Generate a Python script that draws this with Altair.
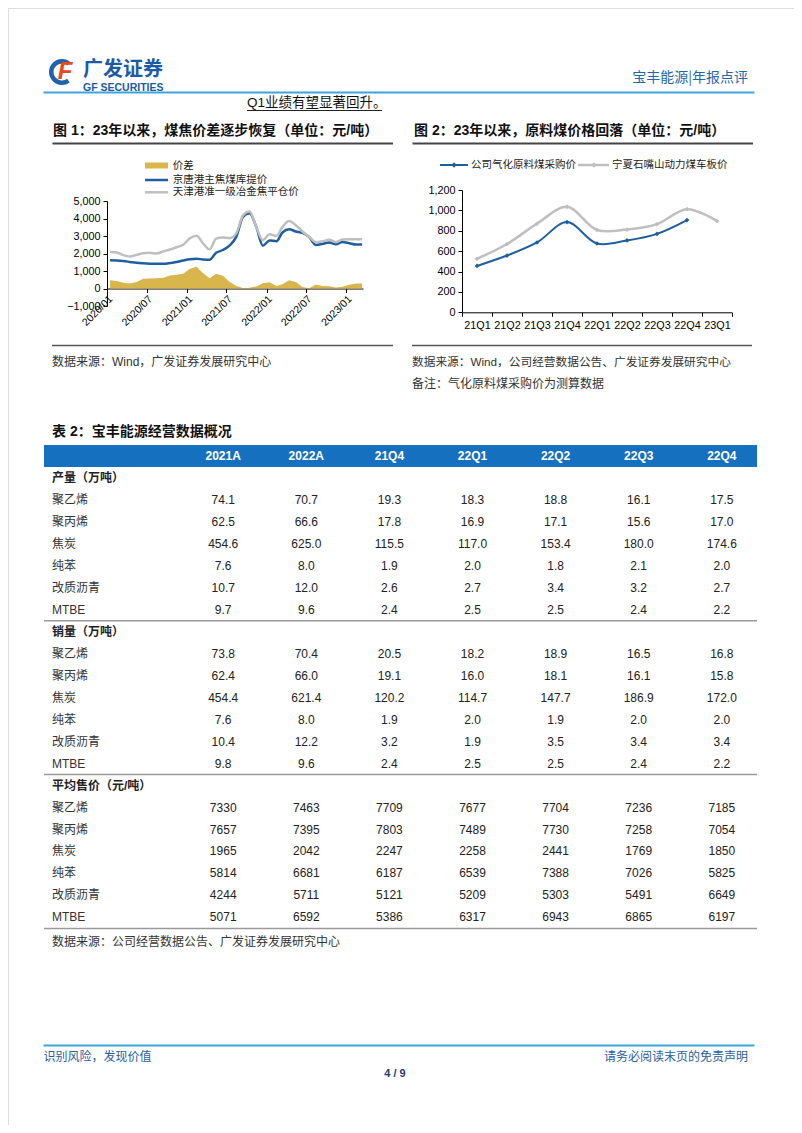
import altair as alt
import pandas as pd

CJK = "Noto Sans CJK SC"
MIX = "Liberation Sans, Noto Sans CJK SC"
LAT = "Liberation Sans"

BLUE = "#1f5fa0"
GRAY = "#bfbfbf"
GOLD = "#d8b64c"
HDR_BLUE = "#1570c0"
LINE_BLUE = "#3aa6dc"
NAVY = "#2a5d9f"

# ---------------- Figure 1 data (monthly, mid-month) ----------------
dates1 = [
    "2020-01-15", "2020-02-15", "2020-03-15", "2020-04-15", "2020-05-15", "2020-06-15",
    "2020-07-15", "2020-08-15", "2020-09-15", "2020-10-15", "2020-11-15", "2020-12-15",
    "2021-01-15", "2021-02-15", "2021-03-15", "2021-04-15", "2021-05-15", "2021-06-15",
    "2021-07-15", "2021-08-15", "2021-09-15", "2021-10-15", "2021-11-15", "2021-12-15",
    "2022-01-15", "2022-02-15", "2022-03-15", "2022-04-15", "2022-05-15", "2022-06-15",
    "2022-07-15", "2022-08-15", "2022-09-15", "2022-10-15", "2022-11-15", "2022-12-15",
    "2023-01-15", "2023-02-15", "2023-03-15",
]
spread = [475, 430, 330, 290, 370, 560, 575, 580, 620, 750, 790, 840, 1130, 1250, 880,
          580, 850, 730, 380, 150, 30, 50, 120, 300, 360, 150, 250, 470, 370, 90, 20,
          230, 150, 130, 60, 100, 220, 285, 285]
jingtang = [1610, 1600, 1570, 1520, 1470, 1440, 1420, 1410, 1410, 1450, 1520, 1600, 1670,
            1700, 1660, 1640, 2040, 2200, 2450, 2950, 4090, 4300, 3520, 2450, 2750, 2700,
            3200, 3380, 3260, 3180, 2950, 2480, 2550, 2630, 2530, 2660, 2590, 2510, 2510]
tianjin = [2090, 2060, 1910, 1830, 1920, 2020, 2040, 2000, 2120, 2230, 2360, 2500, 2870,
           3020, 2600, 2240, 2850, 2920, 2870, 3150, 4180, 4400, 3520, 2760, 3100, 3000,
           3520, 3860, 3620, 3260, 2950, 2650, 2700, 2780, 2650, 2800, 2810, 2810, 2810]
tick_months = [(2020, 1), (2020, 7), (2021, 1), (2021, 7), (2022, 1), (2022, 7), (2023, 1)]

# ---------------- Figure 2 data ----------------
quarters = ["21Q1", "21Q2", "21Q3", "21Q4", "22Q1", "22Q2", "22Q3", "22Q4", "23Q1"]
company_coal = [455, 557, 685, 885, 675, 705, 770, 905]
ningxia_coal = [525, 670, 870, 1035, 808, 812, 865, 1012, 895]

# ---------------- Table data ----------------
tbl_cols = ["2021A", "2022A", "21Q4", "22Q1", "22Q2", "22Q3", "22Q4"]
products = ["聚乙烯", "聚丙烯", "焦炭", "纯苯", "改质沥青", "MTBE"]
sections = ["产量（万吨）", "销量（万吨）", "平均售价（元/吨）"]
output_vals = [
    [74.1, 70.7, 19.3, 18.3, 18.8, 16.1, 17.5],
    [62.5, 66.6, 17.8, 16.9, 17.1, 15.6, 17.0],
    [454.6, 625.0, 115.5, 117.0, 153.4, 180.0, 174.6],
    [7.6, 8.0, 1.9, 2.0, 1.8, 2.1, 2.0],
    [10.7, 12.0, 2.6, 2.7, 3.4, 3.2, 2.7],
    [9.7, 9.6, 2.4, 2.5, 2.5, 2.4, 2.2],
]
sales_vals = [
    [73.8, 70.4, 20.5, 18.2, 18.9, 16.5, 16.8],
    [62.4, 66.0, 19.1, 16.0, 18.1, 16.1, 15.8],
    [454.4, 621.4, 120.2, 114.7, 147.7, 186.9, 172.0],
    [7.6, 8.0, 1.9, 2.0, 1.9, 2.0, 2.0],
    [10.4, 12.2, 3.2, 1.9, 3.5, 3.4, 3.4],
    [9.8, 9.6, 2.4, 2.5, 2.5, 2.4, 2.2],
]
price_vals = [
    [7330, 7463, 7709, 7677, 7704, 7236, 7185],
    [7657, 7395, 7803, 7489, 7730, 7258, 7054],
    [1965, 2042, 2247, 2258, 2441, 1769, 1850],
    [5814, 6681, 6187, 6539, 7388, 7026, 5825],
    [4244, 5711, 5121, 5209, 5303, 5491, 6649],
    [5071, 6592, 5386, 6317, 6943, 6865, 6197],
]

W, H = 786, 1117   # whole page inside the 8px margin
M = 8               # page margin: page coordinate -> chart coordinate

dummy = pd.DataFrame({"k": [0]})


def T(x, y, s, size=12, color="#222", weight="normal", align="left", font=MIX, style="normal"):
    return alt.Chart(dummy).mark_text(
        text=s, fontSize=size, color=color, fontWeight=weight, align=align,
        baseline="middle", font=font, fontStyle=style
    ).encode(x=alt.value(x - M), y=alt.value(y - M))


def R(x1, x2, y, color, w):
    return alt.Chart(dummy).mark_rule(color=color, strokeWidth=w).encode(
        x=alt.value(x1 - M), x2=alt.value(x2 - M), y=alt.value(y - M))


# ---------------- Figure 1 ----------------
# plot area on the page: x 107..363, y 201 (5000) .. 306 (-1000); x axis sits at y=0 -> page 288.5
F1_X0, F1_X1, F1_YTOP, F1_YBOT, F1_AXIS_Y = 107, 363, 201, 306, 288.5
d1 = pd.DataFrame({"date": dates1, "spread": spread, "jt": jingtang, "tj": tianjin})


def xscale1():
    return alt.Scale(type="utc", nice=False, range=[F1_X0 - M, F1_X1 - M], domain=[
        alt.DateTime(year=2020, month=1, date=1, utc=True),
        alt.DateTime(year=2023, month=3, date=19, utc=True)])


def yscale1():
    return alt.Scale(domain=[-1000, 5000], nice=False, zero=False, range=[F1_YBOT - M, F1_YTOP - M])


xax1 = alt.Axis(
    title=None, grid=False, orient="bottom", offset=(F1_AXIS_Y - M) - H,
    values=[alt.DateTime(year=y, month=m, date=1, utc=True) for y, m in tick_months],
    format="%Y/%m", labelAngle=315, labelAlign="right", labelBaseline="top",
    labelFontSize=10.5, labelFont=LAT, labelColor="#000", labelFlush=False, labelOverlap=False,
    tickSize=4, tickColor="#000", domainColor="#000", labelPadding=1)
yax1 = alt.Axis(title=None, grid=False, orient="left", offset=-(F1_X0 - M),
                values=[-1000, 0, 1000, 2000, 3000, 4000, 5000], format=",.0f",
                tickSize=4, labelFontSize=10.8, labelFont=LAT, labelColor="#000",
                domainColor="#000", tickColor="#000", labelPadding=3)
area1 = alt.Chart(d1).mark_area(color=GOLD, opacity=1).encode(
    x=alt.X("date:T", scale=xscale1(), axis=xax1), y=alt.Y("spread:Q", scale=yscale1(), axis=yax1))
line_jt = alt.Chart(d1).mark_line(color=BLUE, strokeWidth=2.5, interpolate="monotone").encode(
    x=alt.X("date:T", scale=xscale1(), axis=None), y=alt.Y("jt:Q", scale=yscale1(), axis=None))
line_tj = alt.Chart(d1).mark_line(color=GRAY, strokeWidth=2.5, interpolate="monotone").encode(
    x=alt.X("date:T", scale=xscale1(), axis=None), y=alt.Y("tj:Q", scale=yscale1(), axis=None))

# ---------------- Figure 2 ----------------
# plot area on the page: x 462..732, y 190 (1200) .. 312.3 (0)
F2_X0, F2_X1, F2_YTOP, F2_YBOT = 462, 732, 190, 312.3
d2a = pd.DataFrame({"q": quarters[:len(company_coal)], "v": company_coal})
d2b = pd.DataFrame({"q": quarters, "v": ningxia_coal})


def xscale2():
    return alt.Scale(type="band", domain=quarters, paddingInner=0, paddingOuter=0,
                     range=[F2_X0 - M, F2_X1 - M])


def yscale2():
    return alt.Scale(domain=[0, 1200], nice=False, range=[F2_YBOT - M, F2_YTOP - M])


xax2 = alt.Axis(title=None, orient="bottom", offset=(F2_YBOT - M) - H, labelAngle=0,
                tickBand="extent", tickSize=4, tickColor="#000", domainColor="#000",
                labelFontSize=10.8, labelFont=LAT, labelColor="#000", labelPadding=3)
yax2 = alt.Axis(title=None, grid=False, orient="left", offset=-(F2_X0 - M),
                values=[0, 200, 400, 600, 800, 1000, 1200], format=",.0f",
                tickSize=4, labelFontSize=10.8, labelFont=LAT, labelColor="#000",
                domainColor="#000", tickColor="#000", labelPadding=3)
line_nx = alt.Chart(d2b).mark_line(
    color=GRAY, strokeWidth=2.5, interpolate="catmull-rom",
    point=alt.OverlayMarkDef(shape="diamond", filled=True, size=22, color=GRAY)
).encode(x=alt.X("q:N", sort=quarters, bandPosition=0.5, scale=xscale2(), axis=xax2),
         y=alt.Y("v:Q", scale=yscale2(), axis=yax2))
line_co = alt.Chart(d2a).mark_line(
    color=BLUE, strokeWidth=2, interpolate="catmull-rom",
    point=alt.OverlayMarkDef(shape="diamond", filled=True, size=22, color=BLUE)
).encode(x=alt.X("q:N", sort=quarters, bandPosition=0.5, scale=xscale2(), axis=None),
         y=alt.Y("v:Q", scale=yscale2(), axis=None))

# ---------------- Table ----------------
row_ids, row_labels, row_kind = ["r00"], [""], ["hdr"]
cells = []
for si, (sec, block) in enumerate(zip(sections, [output_vals, sales_vals, price_vals])):
    rid = f"r{len(row_ids):02d}"
    row_ids.append(rid); row_labels.append(sec); row_kind.append("sec")
    for pi, prod in enumerate(products):
        rid = f"r{len(row_ids):02d}"
        row_ids.append(rid); row_labels.append(prod); row_kind.append("prod")
        for ci, col in enumerate(tbl_cols):
            v = block[pi][ci]
            cells.append({"row": rid, "col": col, "txt": (f"{v:.1f}" if si < 2 else f"{int(v)}")})

lab_df = pd.DataFrame({"row": row_ids, "label": row_labels, "kind": row_kind})
cell_df = pd.DataFrame(cells)
hdr_df = pd.DataFrame({"row": ["r00"] * len(tbl_cols), "col": tbl_cols})

# table box on the page: x 44..757, y 445..928.4; value columns centred from ~223 to ~722
TB_X0, TB_X1, TB_Y0, TB_Y1 = 44, 757, 445, 928.4
LBL_X = 52 - M


def ys():
    return alt.Scale(type="band", domain=row_ids, paddingInner=0, paddingOuter=0,
                     range=[TB_Y0 - M, TB_Y1 - M])


def xs():
    return alt.Scale(type="point", domain=tbl_cols, padding=0, range=[223.2 - M, 721.8 - M])


t_hdr_rect = alt.Chart(pd.DataFrame({"row": ["r00"]})).mark_rect(color=HDR_BLUE).encode(
    y=alt.Y("row:N", scale=ys(), axis=None), x=alt.value(TB_X0 - M), x2=alt.value(TB_X1 - M))
t_hdr_txt = alt.Chart(hdr_df).mark_text(color="white", fontWeight="bold", fontSize=12, font=LAT).encode(
    x=alt.X("col:N", scale=xs(), axis=None), y=alt.Y("row:N", scale=ys(), axis=None), text="col:N")
t_sec = alt.Chart(lab_df[lab_df.kind == "sec"]).mark_text(
    align="left", fontWeight="bold", fontSize=12, color="#222", font=MIX).encode(
    x=alt.value(LBL_X), y=alt.Y("row:N", scale=ys(), axis=None), text="label:N")
t_prod = alt.Chart(lab_df[lab_df.kind == "prod"]).mark_text(
    align="left", fontSize=12, color="#333", font=MIX).encode(
    x=alt.value(LBL_X), y=alt.Y("row:N", scale=ys(), axis=None), text="label:N")
t_cells = alt.Chart(cell_df).mark_text(fontSize=12, color="#222", font=LAT).encode(
    x=alt.X("col:N", scale=xs(), axis=None), y=alt.Y("row:N", scale=ys(), axis=None), text="txt:N")
t_sep = alt.Chart(pd.DataFrame({"row": ["r08", "r15"]})).mark_rule(color="#9a9a9a", strokeWidth=1.5).encode(
    y=alt.Y("row:N", scale=ys(), axis=None, bandPosition=0), x=alt.value(TB_X0 - M), x2=alt.value(TB_X1 - M))
t_bot = alt.Chart(pd.DataFrame({"row": ["r21"]})).mark_rule(color="#9a9a9a", strokeWidth=1.5).encode(
    y=alt.Y("row:N", scale=ys(), axis=None, bandPosition=1), x=alt.value(TB_X0 - M), x2=alt.value(TB_X1 - M))

# ---------------- Page furniture ----------------
logo_arc = alt.Chart(dummy).mark_arc(
    color="#1e62b0", radius=13, radius2=8.5, theta=2.5, theta2=7.0
).encode(x=alt.value(62 - M), y=alt.value(72 - M))
legend_rect = alt.Chart(dummy).mark_rect(color=GOLD).encode(
    x=alt.value(145 - M), x2=alt.value(168 - M), y=alt.value(162.5 - M), y2=alt.value(168.5 - M))
lg_pt1 = alt.Chart(dummy).mark_point(shape="diamond", filled=True, size=28, color=BLUE, opacity=1).encode(
    x=alt.value(454 - M), y=alt.value(165 - M))
lg_pt2 = alt.Chart(dummy).mark_point(shape="diamond", filled=True, size=28, color=GRAY, opacity=1).encode(
    x=alt.value(594 - M), y=alt.value(165 - M))

furniture = [
    logo_arc,
    T(65, 72, "F", 24, "#e8481e", "bold", "center", LAT, "italic"),
    T(83, 70, "广发证券", 20, "#1d5aa6", "bold", "left", CJK),
    T(83, 88, "GF SECURITIES", 10.5, "#1d5aa6", "bold", "left", LAT),
    T(748, 78, "宝丰能源|年报点评", 14, "#2466aa", "normal", "right", CJK),
    R(43.5, 754.5, 92.5, LINE_BLUE, 2),
    T(247, 103, "Q1业绩有望显著回升。", 13.5, "#111"),
    R(247, 382, 110.5, "#222", 1),
    T(53, 130.5, "图 1：23年以来，煤焦价差逐步恢复（单位：元/吨）", 14, "#111", "bold"),
    T(414, 130.5, "图 2：23年以来，原料煤价格回落（单位：元/吨）", 14, "#111", "bold"),
    R(52.5, 393, 143.5, "#444", 2),
    R(412.5, 753, 143.5, "#444", 2),
    legend_rect,
    R(145, 168, 180, BLUE, 2.5),
    R(145, 168, 192.3, GRAY, 2.5),
    T(172.7, 165.5, "价差", 10.5),
    T(172.7, 180, "京唐港主焦煤库提价", 10.5),
    T(172.7, 192.3, "天津港准一级冶金焦平仓价", 10.5),
    R(440, 468, 165, BLUE, 2),
    lg_pt1,
    T(471, 165, "公司气化原料煤采购价", 10.5),
    R(578, 609, 165, GRAY, 2.5),
    lg_pt2,
    T(612, 165, "宁夏石嘴山动力煤车板价", 10.5),
    R(52, 393, 345.5, "#555", 1.5),
    R(412, 752, 345.5, "#555", 1.5),
    T(52, 361.5, "数据来源：Wind，广发证券发展研究中心", 12, "#333"),
    T(412, 361.5, "数据来源：Wind，公司经营数据公告、广发证券发展研究中心", 11.7, "#333"),
    T(412, 383.5, "备注：气化原料煤采购价为测算数据", 12, "#333"),
    T(52, 432, "表 2：宝丰能源经营数据概况", 14, "#111", "bold"),
    T(52, 941.5, "数据来源：公司经营数据公告、广发证券发展研究中心", 12, "#333"),
    R(43.5, 754.5, 1045.5, LINE_BLUE, 2),
    T(43.5, 1056.5, "识别风险，发现价值", 12, NAVY, "normal", "left", CJK),
    T(748, 1056.5, "请务必阅读末页的免责声明", 12, NAVY, "normal", "right", CJK),
    T(395, 1073.5, "4 / 9", 11, "#1f3b70", "bold", "center", LAT),
]

chart = alt.layer(
    area1, line_jt, line_tj,
    line_nx, line_co,
    t_hdr_rect, t_sep, t_bot, t_hdr_txt, t_sec, t_prod, t_cells,
    *furniture,
).resolve_scale(
    x="independent", y="independent"
).resolve_axis(
    x="independent", y="independent"
).properties(
    width=W, height=H, padding=0
).configure_view(strokeWidth=0).configure(font=MIX, background="white")

chart.save("out.html", embed_options={"renderer": "svg", "actions": False})
